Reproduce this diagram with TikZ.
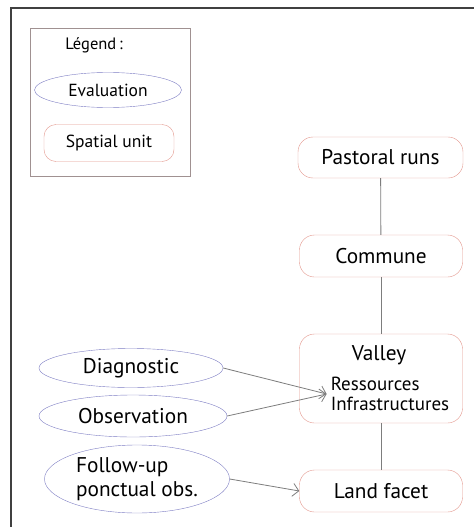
\documentclass[tikz,border=0pt]{standalone}
\usepackage{fontspec}
\setmainfont{PT Sans}
\usetikzlibrary{shapes.geometric,arrows.meta}

\definecolor{unitred}{RGB}{226,150,140}
\definecolor{evalblue}{RGB}{125,125,195}
\definecolor{linkgray}{RGB}{125,125,125}
\definecolor{framegray}{RGB}{160,145,145}

\tikzset{
  unit/.style={draw=unitred, rounded corners=15pt, minimum width=163pt,
    minimum height=42pt, font=\fontsize{21.3}{24}\selectfont},
  eval/.style={draw=evalblue, ellipse, inner sep=0pt,
    font=\fontsize{21.3}{24}\selectfont},
  link/.style={draw=linkgray, line width=.8pt},
  flow/.style={link, -{Straight Barb[length=6pt,width=13pt]}}
}

\begin{document}
\begin{tikzpicture}[x=1pt,y=-1pt]
        \useasboundingbox (0,0) rectangle (474,527);
        \draw[line width=1.4pt, black!75] (11,527) -- (11,8) -- (474,8);

        % legend
        \node[draw=framegray, minimum width=160pt, minimum height=148pt] (legend) at (110,102) {};
        \node[font=\fontsize{16.5}{19}\selectfont] (legtitle) at (94,45) {Légend\,:};
        \node[eval, minimum width=147pt, minimum height=35pt, font=\fontsize{17.5}{20}\selectfont] (legeval) at (108,90) {Evaluation};
        \node[unit, rounded corners=12pt, minimum width=130pt, minimum height=37pt, font=\fontsize{17.5}{20}\selectfont] (legunit) at (109,143) {Spatial unit};

        % spatial units
        \node[unit, minimum width=165pt, minimum height=41pt] (pastoral) at (380.5,157.5) {Pastoral runs};
        \node[unit] (commune) at (381,256) {Commune};
        \node[unit, minimum height=89pt] (valley) at (381,378.5) {};
        \node[font=\fontsize{21.3}{24}\selectfont] (valleytxt) at (379,355) {Valley};
        \node[align=left, inner sep=4pt, font=\fontsize{19}{19.5}\selectfont] (res) at (390,394) {Ressources\\Infrastructures};
        \node[unit] (landfacet) at (381,491) {Land facet};

        % evaluations
        \node[eval, minimum width=184pt, minimum height=39pt] (diag) at (131,368) {Diagnostic};
        \node[eval, minimum width=188pt, minimum height=42pt] (obs) at (133,416) {Observation};
        \node[eval, minimum width=185pt, minimum height=68pt, align=left] (follow) at (137,479) {Follow-up\\ponctual obs.};

        \draw[link] (pastoral) -- (commune);
        \draw[link] (commune) -- (valley);
        \draw[link] (valley) -- (landfacet);
        \draw[flow] (diag.east) -- (res.west);
        \draw[flow] (obs.east) -- (res.west);
        \draw[flow] (follow.east) -- (landfacet.west);
      \end{tikzpicture}
\end{document}
